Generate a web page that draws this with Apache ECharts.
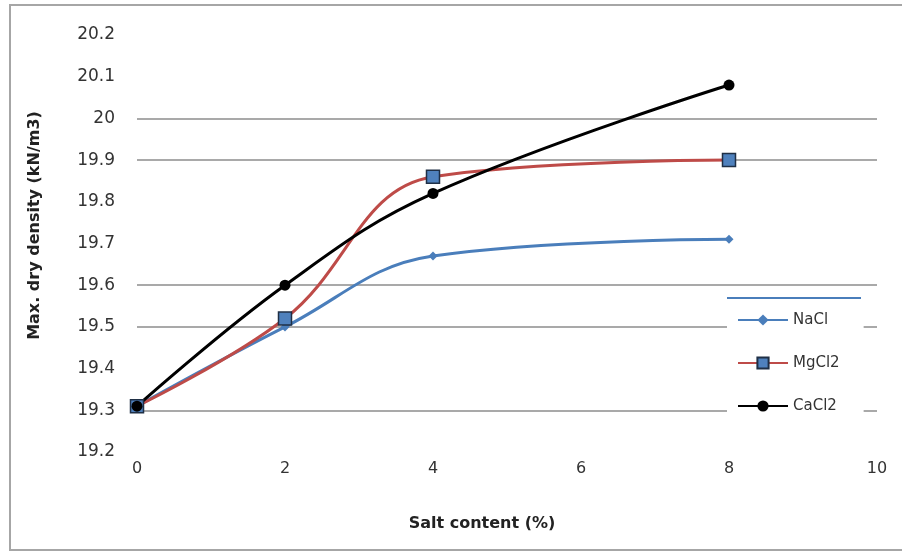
<!DOCTYPE html>
<html><head><meta charset="utf-8">
<script src="https://cdn.jsdelivr.net/npm/echarts@6/dist/echarts.min.js"></script>
<style>html,body{margin:0;padding:0;background:#fff}#c{width:902px;height:555px}</style>
</head><body><div id="c"></div>
<script>
const saltContent = [0, 2, 4, 8];
const nacl = [19.31, 19.50, 19.67, 19.71];
const mgcl2 = [19.31, 19.52, 19.86, 19.90];
const cacl2 = [19.31, 19.60, 19.82, 20.08];
const seriesNames = ['NaCl', 'MgCl2', 'CaCl2'];
const yTitle = 'Max. dry density (kN/m3)';
const xTitle = 'Salt content (%)';

const pair = arr => saltContent.map((x, i) => [x, arr[i]]);
const font = 'DejaVu Sans';
const chart = echarts.init(document.getElementById('c'), null, {renderer: 'canvas'});
const gridColors = ['rgba(0,0,0,0)', '#8c8c8c', 'rgba(0,0,0,0)', '#8c8c8c', '#8c8c8c', 'rgba(0,0,0,0)', 'rgba(0,0,0,0)', '#8c8c8c', '#8c8c8c', 'rgba(0,0,0,0)', 'rgba(0,0,0,0)'];
chart.setOption({
  animation: false,
  backgroundColor: '#fff',
  grid: {left: 137, right: 25, top: 35, bottom: 103},
  xAxis: {
    type: 'value', min: 0, max: 10, interval: 2,
    axisLine: {show: false}, axisTick: {show: false}, splitLine: {show: false},
    axisLabel: {margin: 9, fontFamily: font, fontSize: 16, color: '#333'},
    name: xTitle, nameLocation: 'middle', nameGap: 64,
    nameTextStyle: {fontFamily: font, fontSize: 16, fontWeight: 'bold', color: '#222', padding: [0, 50, 0, 0]}
  },
  yAxis: {
    type: 'value', min: 19.2, max: 20.2, interval: 0.1,
    axisLine: {show: false}, axisTick: {show: false},
    splitLine: {show: true, lineStyle: {color: gridColors, width: 1.5}},
    axisLabel: {margin: 22, fontFamily: font, fontSize: 17, color: '#333', formatter: v => String(+v.toFixed(1))},
    name: yTitle, nameLocation: 'middle', nameGap: 94,
    nameTextStyle: {fontFamily: font, fontSize: 16, fontWeight: 'bold', color: '#222', padding: [0, 0, 0, 36]}
  },
  legend: {
    orient: 'vertical', left: 727, top: 304, data: seriesNames,
    backgroundColor: '#fff', padding: [8, 24, 6, 10],
    itemWidth: 50, itemHeight: 14, itemGap: 27,
    textStyle: {fontFamily: font, fontSize: 15, color: '#333', lineHeight: 16}
  },
  graphic: [
    {type: 'rect', shape: {x: 10, y: 5, width: 900, height: 545}, style: {fill: 'none', stroke: '#a6a6a6', lineWidth: 2}, z: 100},
    {type: 'line', shape: {x1: 727, y1: 298, x2: 861, y2: 298}, style: {stroke: '#4a7ebb', lineWidth: 2}, z: 100}
  ],
  series: [
    {name: seriesNames[0], type: 'line', data: pair(nacl), smooth: 0.4,
     symbol: 'diamond', symbolSize: 9, itemStyle: {color: '#4a7ebb'}, lineStyle: {color: '#4a7ebb', width: 3}},
    {name: seriesNames[1], type: 'line', data: pair(mgcl2), smooth: 0.4,
     symbol: 'rect', symbolSize: 13, itemStyle: {color: '#4f81bd', borderColor: '#1f2f45', borderWidth: 1.5},
     lineStyle: {color: '#be4b48', width: 3}},
    {name: seriesNames[2], type: 'line', data: pair(cacl2), smooth: 0.4,
     symbol: 'circle', symbolSize: 11, itemStyle: {color: '#000'}, lineStyle: {color: '#000', width: 3}}
  ]
});
</script></body></html>
